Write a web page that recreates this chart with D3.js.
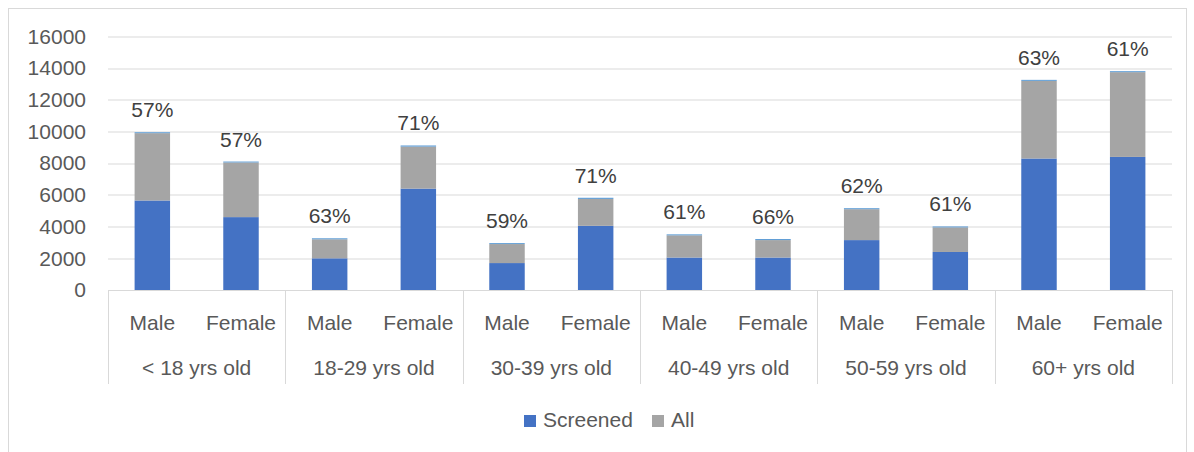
<!DOCTYPE html>
<html>
<head>
<meta charset="utf-8">
<script src="https://cdn.jsdelivr.net/npm/d3@7"></script>
<style>
	body { margin: 0; background: #fff; }
	text { font-family: "Liberation Sans", Arial, sans-serif; }
</style>
</head>
<body>
<div id="screeningchart"></div>
<script>
var ageGroups = ["< 18 yrs old", "18-29 yrs old", "30-39 yrs old", "40-49 yrs old", "50-59 yrs old", "60+ yrs old"];
var sexes = ["Male", "Female"];
// one value per bar, in order: group by group, Male then Female
var screened = [5650, 4600, 2000, 6400, 1700, 4050, 2050, 2050, 3150, 2400, 8300, 8400];
var allTotal = [9900, 8050, 3200, 9050, 2900, 5750, 3450, 3150, 5100, 3950, 13200, 13750];
var pctLabels = [57, 57, 63, 71, 59, 71, 61, 66, 62, 61, 63, 61];
var yTicks = [0, 2000, 4000, 6000, 8000, 10000, 12000, 14000, 16000];
var legendItems = ["Screened", "All"];

function ScreeningChart() {
	var Chart = d3.select("#screeningchart");
	var width = 1194,
	    height = 452,
	    margin = {top: 36.5, right: 22, bottom: 162, left: 108},
	    width_g = width - margin.left - margin.right,
	    height_g = height - margin.top - margin.bottom;
	var color = d3.scaleOrdinal()
		.domain(["screened", "rest", "pct"])
		.range(["#4472C4", "#A5A5A5", "#5B9BD5"]);

	var parseData = function() {
		var rows = [];
		ageGroups.forEach(function(g, i) {
			sexes.forEach(function(s, j) {
				var k = i * sexes.length + j;
				rows.push({
					key: g + "|" + s,
					group: g,
					sex: s,
					screened: screened[k],
					rest: allTotal[k] - screened[k],
					pct: pctLabels[k] // tiny cap segment on top, carries the label
				});
			});
		});
		return rows;
	}

	this.create = function() {
		var rows = parseData();

		var svg = Chart.append("svg")
			.attr("width", width)
			.attr("height", height);

		// chart frame
		svg.append("rect")
			.attr("x", 8.5).attr("y", 8.5)
			.attr("width", 1178).attr("height", 450)
			.attr("fill", "none")
			.attr("stroke", "#d9d9d9");

		var g = svg.append("g")
			.attr("transform", "translate(" + margin.left + "," + margin.top + ")");

		var x = d3.scaleBand()
			.domain(rows.map(function(d) { return d.key; }))
			.range([0, width_g])
			.paddingInner(0.6)
			.paddingOuter(0.3);
		var xGroup = d3.scaleBand()
			.domain(ageGroups)
			.range([0, width_g]);
		var y = d3.scaleLinear()
			.domain([0, 16000])
			.range([height_g, 0]);

		// gridlines
		g.append("g").selectAll("line")
			.data(yTicks.slice(1)).enter().append("line")
			.attr("x1", 0).attr("x2", width_g)
			.attr("y1", function(d) { return Math.round(y(d)) + 0.5; })
			.attr("y2", function(d) { return Math.round(y(d)) + 0.5; })
			.attr("stroke", "#d9d9d9");

		// y axis labels
		var yAxis = g.append("g")
			.call(d3.axisLeft(y).tickValues(yTicks).tickFormat(d3.format("d")).tickSize(0).tickPadding(22));
		yAxis.select(".domain").remove();
		yAxis.selectAll("text")
			.attr("font-family", "Liberation Sans, Arial, sans-serif")
			.attr("font-size", "21px")
			.attr("fill", "#595959");

		// stacked bars
		var stack = d3.stack().keys(["screened", "rest", "pct"]);
		var layers = g.append("g").selectAll("g")
			.data(stack(rows)).enter().append("g")
			.attr("fill", function(d) { return color(d.key); });
		layers.selectAll("rect")
			.data(function(d) { return d; }).enter().append("rect")
			.attr("x", function(d) { return x(d.data.key); })
			.attr("width", x.bandwidth())
			.attr("y", function(d) { return y(d[1]); })
			.attr("height", function(d) { return y(d[0]) - y(d[1]); });

		// percentage labels above bars
		g.append("g").selectAll("text")
			.data(rows).enter().append("text")
			.attr("x", function(d) { return x(d.key) + x.bandwidth() / 2; })
			.attr("y", function(d) { return y(d.screened + d.rest + d.pct) - 15; })
			.attr("text-anchor", "middle")
			.attr("font-size", "21px")
			.attr("fill", "#404040")
			.text(function(d) { return d.pct + "%"; });

		// category axis: baseline + group separators
		var axisG = g.append("g").attr("transform", "translate(0," + height_g + ")");
		axisG.append("line")
			.attr("x1", 0).attr("x2", width_g)
			.attr("y1", 0.5).attr("y2", 0.5)
			.attr("stroke", "#d9d9d9");
		var seps = ageGroups.map(function(d) { return xGroup(d); }).concat([width_g]);
		axisG.selectAll(".sep")
			.data(seps).enter().append("line")
			.attr("class", "sep")
			.attr("x1", function(d) { return Math.round(d) + 0.5; })
			.attr("x2", function(d) { return Math.round(d) + 0.5; })
			.attr("y1", 0).attr("y2", 94)
			.attr("stroke", "#d9d9d9");

		axisG.selectAll(".sexlabel")
			.data(rows).enter().append("text")
			.attr("class", "sexlabel")
			.attr("x", function(d) { return x(d.key) + x.bandwidth() / 2; })
			.attr("y", 40)
			.attr("text-anchor", "middle")
			.attr("font-size", "21px")
			.attr("fill", "#595959")
			.text(function(d) { return d.sex; });

		axisG.selectAll(".grouplabel")
			.data(ageGroups).enter().append("text")
			.attr("class", "grouplabel")
			.attr("x", function(d) { return xGroup(d) + xGroup.bandwidth() / 2; })
			.attr("y", 85)
			.attr("text-anchor", "middle")
			.attr("font-size", "21px")
			.attr("fill", "#595959")
			.text(function(d) { return d; });

		// legend
		var legend = svg.append("g").attr("transform", "translate(524,415)");
		var offsets = [0, 128];
		var items = legend.selectAll("g")
			.data(legendItems).enter().append("g")
			.attr("transform", function(d, i) { return "translate(" + offsets[i] + ",0)"; });
		items.append("rect")
			.attr("width", 12).attr("height", 12)
			.attr("fill", function(d, i) { return color.range()[i]; });
		items.append("text")
			.attr("x", 19).attr("y", 12)
			.attr("font-size", "21px")
			.attr("fill", "#595959")
			.text(function(d) { return d; });
	}
}

var chart = new ScreeningChart();
chart.create();
</script>
</body>
</html>
